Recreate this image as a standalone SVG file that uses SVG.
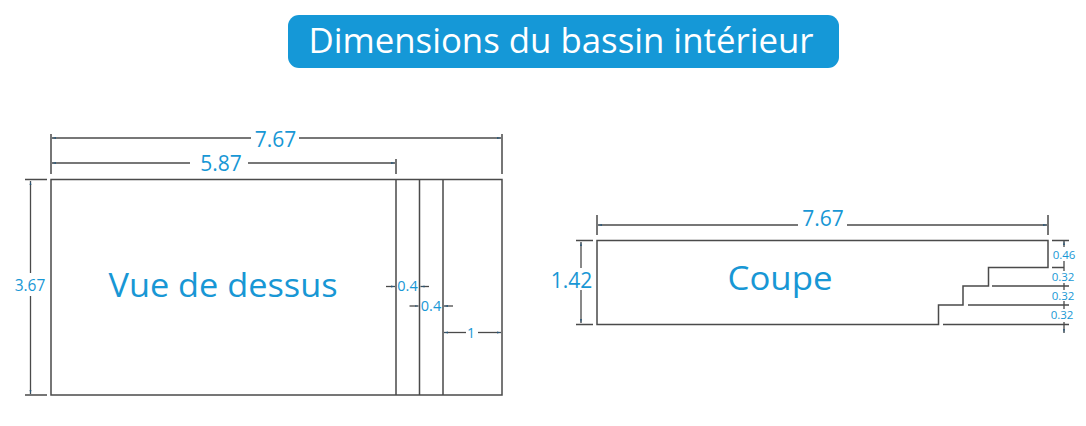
<svg xmlns="http://www.w3.org/2000/svg" width="1086" height="426" viewBox="0 0 1086 426">
<style>
text{font-family:"Open Sans","Noto Sans","Liberation Sans",sans-serif;fill:#1897d5;text-anchor:middle}
.l{fill:none;stroke:#4a4a4a;stroke-width:1.5}
.d{fill:none;stroke:#4a4a4a;stroke-width:1.3}
.s{marker-start:url(#h)}
.e{marker-end:url(#h)}
</style>
<defs><marker id="h" viewBox="0 0 6 4" refX="6" refY="2" markerWidth="4" markerHeight="2.700" markerUnits="userSpaceOnUse" orient="auto-start-reverse"><path d="M6 2L0 0.6V3.4Z" fill="#2c5878"/></marker></defs>
<rect width="1086" height="426" fill="#fff"/>
<g id="title"><rect x="288" y="15" width="551" height="53" rx="11" fill="#1598d7"/><text x="561" y="53" font-size="34" style="fill:#fff" textLength="505" lengthAdjust="spacingAndGlyphs">Dimensions du bassin intérieur</text></g>
<g id="vue-de-dessus">
<rect class="l" x="51" y="179.500" width="451" height="215.500"/>
<path class="l" d="M396 179.500V395M419.500 179.500V395M443 179.500V395"/>
<text x="223" y="297" font-size="33" textLength="229" lengthAdjust="spacingAndGlyphs">Vue de dessus</text>
</g>
<g id="coupe">
<path class="l" d="M597 240.500H1048V267.500H988.500V286H963V305H938.500V324.500H597Z"/>
<text x="780" y="290" font-size="33" textLength="105" lengthAdjust="spacingAndGlyphs">Coupe</text>
</g>
<g id="connectors">
<path class="l" d="M51 134V174M502 134V174M396 159V174M597 215V235M1048 215V235"/>
<path class="d" d="M25 179.500H47M25 395H47M576 240.500H593M576 324.500H593M1052 240.500H1069M1052 267.500H1064M992 286H1069M968 305H1069M943 324.500H1069"/>
<path class="d s" d="M52 138H251"/><path class="d e" d="M299 138H501"/>
<path class="d s" d="M52 163H190"/><path class="d e" d="M248 163H395"/>
<path class="d s" d="M30.500 181V273"/><path class="d e" d="M30.500 296V394"/>
<path class="d s" d="M598 225H798"/><path class="d e" d="M847 225H1047"/>
<path class="d s" d="M581 242V268"/><path class="d e" d="M581 290V323"/>
<path class="d e" d="M386 286.500H395"/><path class="d s" d="M420.500 286.500H429"/>
<path class="d e" d="M409.500 306H418.500"/><path class="d s" d="M444 306H453"/>
<path class="d s" d="M444 332.500H466"/><path class="d e" d="M478 332.500H501"/>
<path class="d s" stroke-width="1.500" d="M1064 241V247"/><path class="d" stroke-width="1.500" d="M1064 261V271M1064 283V290M1064 301V309"/><path class="d e" d="M1064 322V333"/>
</g>
<g id="labels">
<text x="275.500" y="147" font-size="21">7.67</text>
<text x="221" y="171" font-size="21">5.87</text>
<text x="30" y="291" font-size="15.500">3.67</text>
<text x="407.500" y="291" font-size="14.500">0.4</text>
<text x="431" y="311" font-size="14.500">0.4</text>
<text x="471" y="338" font-size="14">1</text>
<text x="823" y="226" font-size="21">7.67</text>
<text x="571.500" y="288" font-size="21">1.42</text>
<text x="1064" y="259" font-size="11.500">0.46</text>
<text x="1063" y="281" font-size="11.500">0.32</text>
<text x="1063" y="300" font-size="11.500">0.32</text>
<text x="1062" y="319" font-size="11.500">0.32</text>
</g>
</svg>
